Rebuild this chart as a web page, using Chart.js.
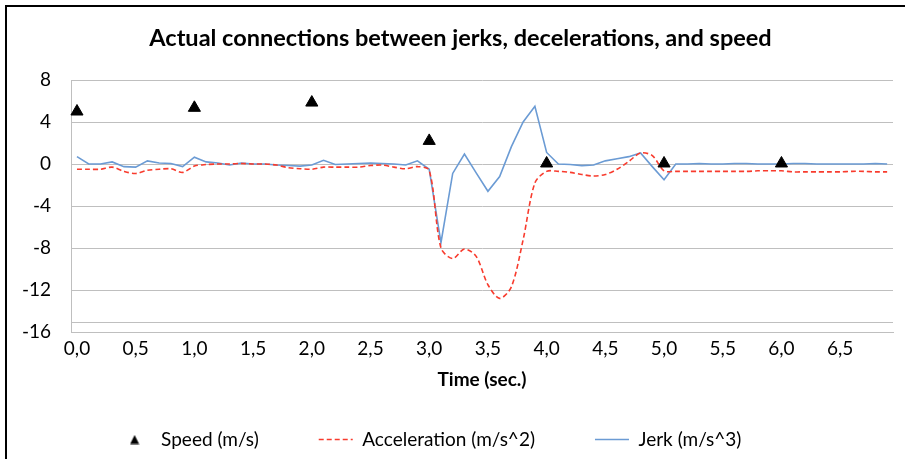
<!DOCTYPE html>
<html>
<head>
<meta charset="utf-8">
<title>Jerks, decelerations and speed</title>
<script src="https://cdn.jsdelivr.net/npm/chart.js@4.4.1/dist/chart.umd.min.js"></script>
<style>
  body { margin: 0; background: #fff; }
  #wrap { position: relative; width: 905px; height: 459px; }
  #frame { position: absolute; left: 5px; top: 5px; right: 0; bottom: 0;
           border-left: 2px solid #000; border-top: 2px solid #000; pointer-events: none; }
</style>
</head>
<body>
<div id="wrap">
  <canvas id="chart" width="905" height="459"></canvas>
  <div id="frame"></div>
</div>
<script>
"use strict";

// time in seconds, one sample every 0.1 s
var times = [
  0.0, 0.1, 0.2, 0.3, 0.4, 0.5, 0.6, 0.7, 0.8, 0.9,
  1.0, 1.1, 1.2, 1.3, 1.4, 1.5, 1.6, 1.7, 1.8, 1.9,
  2.0, 2.1, 2.2, 2.3, 2.4, 2.5, 2.6, 2.7, 2.8, 2.9,
  3.0, 3.1, 3.2, 3.3, 3.4, 3.5, 3.6, 3.7, 3.8, 3.9,
  4.0, 4.1, 4.2, 4.3, 4.4, 4.5, 4.6, 4.7, 4.8, 4.9,
  5.0, 5.1, 5.2, 5.3, 5.4, 5.5, 5.6, 5.7, 5.8, 5.9,
  6.0, 6.1, 6.2, 6.3, 6.4, 6.5, 6.6, 6.7, 6.8, 6.9
];

var acceleration = [
  -0.5, -0.5, -0.5, -0.3, -0.7, -0.9, -0.6, -0.5, -0.45, -0.8,
  -0.2, -0.05, 0.0, 0.0, 0.05, 0.0, 0.0, -0.1, -0.35, -0.45,
  -0.5, -0.3, -0.3, -0.3, -0.3, -0.15, -0.1, -0.3, -0.45, -0.25,
  -0.6, -8.0, -9.0, -8.1, -8.8, -11.5, -12.8, -11.7, -7.2, -1.8,
  -0.7, -0.7, -0.8, -1.0, -1.15, -1.0, -0.5, 0.25, 1.05, 0.8,
  -0.65, -0.7, -0.7, -0.7, -0.7, -0.7, -0.7, -0.7, -0.65, -0.65,
  -0.65, -0.75, -0.75, -0.75, -0.75, -0.75, -0.7, -0.7, -0.75, -0.75
];

var jerk = [
  0.7, 0.0, 0.0, 0.2, -0.25, -0.3, 0.3, 0.1, 0.05, -0.25,
  0.65, 0.2, 0.1, -0.1, 0.1, 0.0, 0.0, -0.1, -0.15, -0.2,
  -0.1, 0.35, -0.05, 0.0, 0.05, 0.1, 0.05, 0.0, -0.1, 0.3,
  -0.5, -7.5, -0.9, 0.95, -0.85, -2.6, -1.2, 1.65, 4.0, 5.5,
  1.1, 0.0, -0.05, -0.15, -0.1, 0.3, 0.5, 0.7, 1.05, -0.25,
  -1.5, 0.0, 0.0, 0.05, 0.0, 0.0, 0.05, 0.05, 0.0, 0.0,
  0.0, 0.05, 0.05, 0.0, 0.0, 0.0, 0.0, 0.0, 0.05, 0.0
];

// speed is only sampled once a second
var speedTimes = [0.0, 1.0, 2.0, 3.0, 4.0, 5.0, 6.0];
var speedValues = [5.0, 5.35, 5.85, 2.2, 0.05, 0.05, 0.05];

var yTicks = { min: -16, max: 8, step: 4 };
var axisCross = -15;

var speed = times.map(function (t) {
  var i = speedTimes.indexOf(t);
  return i >= 0 ? speedValues[i] : null;
});

var FONT = 'Lato, "Open Sans", sans-serif';

/*-- small triangle for the legend (the chart one is too wide there) --*/
var legendTriangle = document.createElement('canvas');
legendTriangle.width = 10;
legendTriangle.height = 10;
(function () {
  var c = legendTriangle.getContext('2d');
  c.fillStyle = '#000';
  c.beginPath();
  c.moveTo(5, 0.5);
  c.lineTo(9.5, 9.5);
  c.lineTo(0.5, 9.5);
  c.closePath();
  c.fill();
})();

// Excel draws the horizontal axis line where it crosses the value axis
var crossLine = {
  id: 'crossLine',
  beforeDatasetsDraw: function (chart) {
    var ctx = chart.ctx, area = chart.chartArea;
    var py = Math.round(chart.scales.y.getPixelForValue(axisCross)) + 0.5;
    ctx.save();
    ctx.strokeStyle = '#bfbfbf';
    ctx.lineWidth = 1;
    ctx.beginPath();
    ctx.moveTo(area.left, py);
    ctx.lineTo(area.right, py);
    ctx.stroke();
    ctx.restore();
  }
};

// nudge legend row left and title right, like the original
var boxShift = {
  id: 'boxShift',
  afterLayout: function (chart) {
    chart.legend.left -= 18;
    chart.legend.right -= 18;
    chart.titleBlock.left += 13;
    chart.titleBlock.right += 13;
  }
};

new Chart(document.getElementById('chart').getContext('2d'), {
  type: 'line',
  data: {
    labels: times,
    datasets: [{
      label: 'Speed (m/s)',
      data: speed,
      showLine: false,
      pointStyle: 'triangle',
      pointRadius: 7,
      pointHoverRadius: 7,
      backgroundColor: '#000',
      borderColor: '#000',
      borderWidth: 1
    }, {
      label: 'Acceleration (m/s^2)',
      data: acceleration,
      borderColor: '#f83b2d',
      backgroundColor: '#f83b2d',
      borderWidth: 1.6,
      borderDash: [5, 3],
      tension: 0.3,
      pointStyle: 'line',
      pointRadius: 0
    }, {
      label: 'Jerk (m/s^3)',
      data: jerk,
      borderColor: '#6b9bd4',
      backgroundColor: '#6b9bd4',
      borderWidth: 1.6,
      tension: 0,
      pointStyle: 'line',
      pointRadius: 0
    }]
  },
  options: {
    responsive: false,
    animation: false,
    layout: { padding: { left: 2, right: 12, top: 0, bottom: 0 } },
    plugins: {
      title: {
        display: true,
        text: 'Actual connections between jerks, decelerations, and speed',
        color: '#000',
        font: { family: FONT, size: 23.5, weight: 'bold' },
        padding: { top: 24, bottom: 27.8 }
      },
      legend: {
        position: 'bottom',
        labels: {
          usePointStyle: true,
          pointStyleWidth: 34,
          boxHeight: 7,
          padding: 60,
          color: '#000',
          font: { family: FONT, size: 19 },
          generateLabels: function (chart) {
            var items = Chart.defaults.plugins.legend.labels.generateLabels(chart);
            items.forEach(function (it) {
              var ds = chart.data.datasets[it.datasetIndex];
              if (ds.borderDash) it.lineDash = ds.borderDash;
              if (ds.showLine !== false) it.lineWidth = ds.borderWidth;
            });
            items[0].pointStyle = legendTriangle;
            return items;
          }
        }
      },
      tooltip: { enabled: false }
    },
    scales: {
      x: {
        type: 'category',
        offset: true,
        grid: { display: false, drawTicks: false },
        border: { color: '#bfbfbf' },
        ticks: {
          autoSkip: false,
          maxRotation: 0,
          padding: 5,
          color: '#000',
          font: { family: FONT, size: 19 },
          callback: function (v, i) {
            return i % 5 === 0 ? times[i].toFixed(1).replace('.', ',') : '';
          }
        },
        title: {
          display: true,
          text: 'Time (sec.)',
          color: '#000',
          font: { family: FONT, size: 19, weight: 'bold' },
          padding: { top: 3.8, bottom: -21.4 }
        }
      },
      y: {
        min: yTicks.min,
        max: yTicks.max,
        grid: { color: '#bfbfbf', drawTicks: false },
        border: { color: '#bfbfbf' },
        ticks: {
          stepSize: yTicks.step,
          padding: 20,
          color: '#000',
          font: { family: FONT, size: 19 }
        }
      }
    }
  },
  plugins: [crossLine, boxShift]
});
</script>
</body>
</html>
